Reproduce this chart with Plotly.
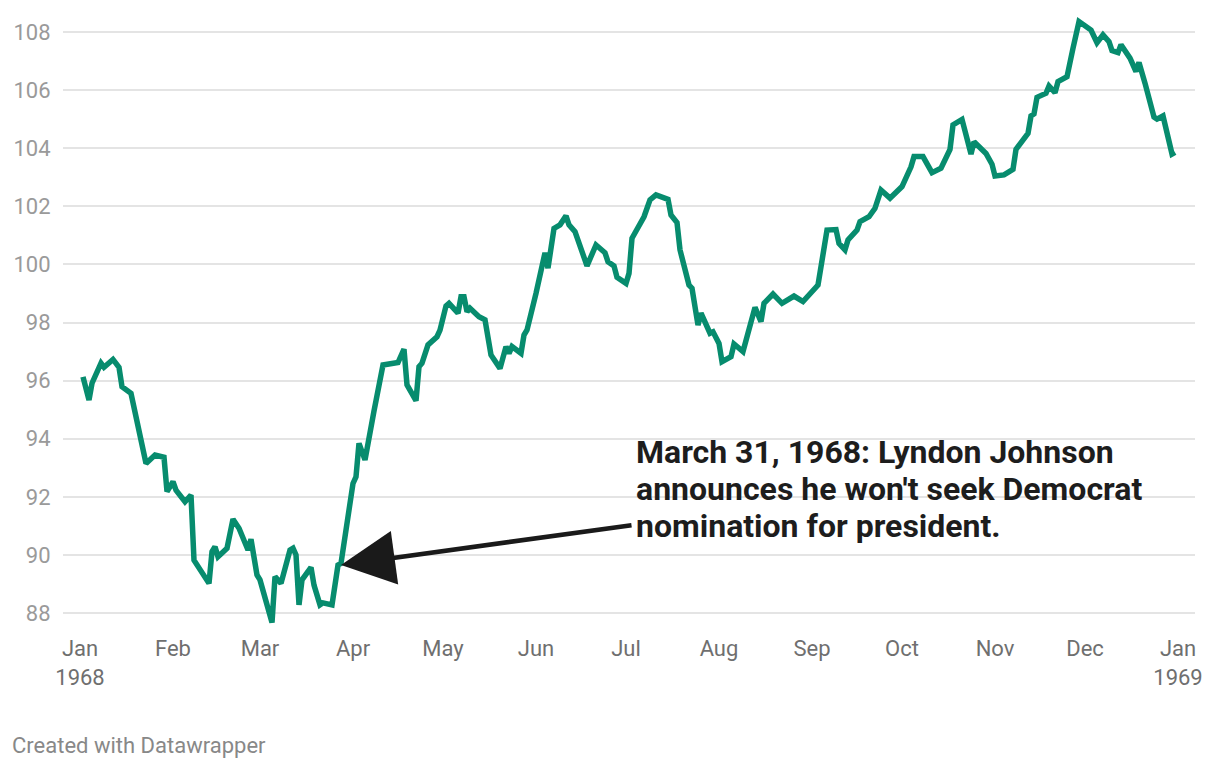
import plotly.graph_objects as go

dates = [
    "1968-01-02", "1968-01-04", "1968-01-05", "1968-01-08", "1968-01-09", "1968-01-12",
    "1968-01-14", "1968-01-15", "1968-01-18", "1968-01-23", "1968-01-26", "1968-01-29",
    "1968-01-30", "1968-02-01", "1968-02-02", "1968-02-05", "1968-02-07", "1968-02-08",
    "1968-02-13", "1968-02-14", "1968-02-15", "1968-02-16", "1968-02-19", "1968-02-21",
    "1968-02-23", "1968-02-26", "1968-02-27", "1968-02-29", "1968-03-01", "1968-03-05",
    "1968-03-06", "1968-03-08", "1968-03-11", "1968-03-12", "1968-03-13", "1968-03-14",
    "1968-03-15", "1968-03-18", "1968-03-19", "1968-03-21", "1968-03-22", "1968-03-25",
    "1968-03-27", "1968-03-28", "1968-04-01", "1968-04-02", "1968-04-03", "1968-04-05",
    "1968-04-08", "1968-04-11", "1968-04-16", "1968-04-18", "1968-04-19", "1968-04-22",
    "1968-04-23", "1968-04-24", "1968-04-26", "1968-04-29", "1968-04-30", "1968-05-02",
    "1968-05-03", "1968-05-06", "1968-05-07", "1968-05-08", "1968-05-09", "1968-05-10",
    "1968-05-13", "1968-05-15", "1968-05-17", "1968-05-20", "1968-05-22", "1968-05-23",
    "1968-05-24", "1968-05-27", "1968-05-28", "1968-05-29", "1968-06-01", "1968-06-04",
    "1968-06-05", "1968-06-07", "1968-06-09", "1968-06-11", "1968-06-12", "1968-06-14",
    "1968-06-18", "1968-06-21", "1968-06-24", "1968-06-25", "1968-06-27", "1968-06-28",
    "1968-07-01", "1968-07-02", "1968-07-03", "1968-07-07", "1968-07-09", "1968-07-11",
    "1968-07-15", "1968-07-16", "1968-07-18", "1968-07-19", "1968-07-22", "1968-07-23",
    "1968-07-25", "1968-07-26", "1968-07-29", "1968-07-30", "1968-08-01", "1968-08-02",
    "1968-08-05", "1968-08-06", "1968-08-09", "1968-08-13", "1968-08-15", "1968-08-16",
    "1968-08-19", "1968-08-22", "1968-08-26", "1968-08-29", "1968-09-03", "1968-09-06",
    "1968-09-09", "1968-09-10", "1968-09-12", "1968-09-13", "1968-09-16", "1968-09-17",
    "1968-09-20", "1968-09-22", "1968-09-24", "1968-09-27", "1968-10-01", "1968-10-04",
    "1968-10-05", "1968-10-08", "1968-10-11", "1968-10-14", "1968-10-17", "1968-10-18",
    "1968-10-21", "1968-10-24", "1968-10-25", "1968-10-29", "1968-10-31", "1968-11-01",
    "1968-11-04", "1968-11-07", "1968-11-08", "1968-11-12", "1968-11-13", "1968-11-14",
    "1968-11-15", "1968-11-18", "1968-11-19", "1968-11-21", "1968-11-22", "1968-11-25",
    "1968-11-27", "1968-11-28", "1968-11-29", "1968-12-03", "1968-12-05", "1968-12-07",
    "1968-12-09", "1968-12-10", "1968-12-12", "1968-12-13", "1968-12-16", "1968-12-18",
    "1968-12-19", "1968-12-21", "1968-12-24", "1968-12-25", "1968-12-27", "1968-12-30",
    "1968-12-31",
]

values = [
    96.13, 95.33, 95.91, 96.60, 96.46, 96.73,
    96.46, 95.79, 95.56, 93.15, 93.44, 93.36,
    92.18, 92.52, 92.23, 91.83, 92.06, 89.82,
    89.02, 90.11, 90.28, 89.94, 90.23, 91.23,
    90.92, 90.17, 90.54, 89.31, 89.14, 87.67,
    89.25, 89.02, 90.17, 90.23, 90.00, 88.28,
    89.14, 89.57, 88.96, 88.28, 88.35, 88.28,
    89.65, 89.71, 92.46, 92.69, 93.84, 93.27,
    94.95, 96.54, 96.62, 97.08, 95.85, 95.31,
    96.48, 96.60, 97.23, 97.51, 97.74, 98.57,
    98.66, 98.32, 98.89, 98.89, 98.37, 98.49,
    98.20, 98.09, 96.88, 96.42, 97.17, 96.94,
    97.17, 96.94, 97.57, 97.74, 99.00, 100.40,
    99.87, 101.24, 101.36, 101.67, 101.36, 101.13,
    99.95, 100.67, 100.40, 100.09, 99.95, 99.56,
    99.35, 99.69, 100.90, 101.64, 102.22, 102.39,
    102.24, 101.70, 101.44, 100.50, 99.29, 99.18,
    97.91, 98.32, 97.63, 97.68, 97.28, 96.65,
    96.82, 97.26, 97.00, 98.52, 98.03, 98.66,
    98.98, 98.66, 98.91, 98.72, 99.29, 101.18,
    101.20, 100.72, 100.50, 100.84, 101.18, 101.47,
    101.64, 101.93, 102.56, 102.28, 102.68, 103.36,
    103.71, 103.71, 103.16, 103.31, 103.96, 104.80,
    104.99, 103.80, 104.22, 103.82, 103.45, 103.04,
    103.08, 103.27, 103.96, 104.51, 105.11, 105.18,
    105.75, 105.89, 106.14, 105.91, 106.29, 106.46,
    107.44, 107.84, 108.36, 108.07, 107.63, 107.90,
    107.67, 107.36, 107.29, 107.56, 107.10, 106.64,
    106.95, 106.24, 105.07, 105.00, 105.11, 103.80,
    103.86,
]

tick_dates = ["1968-01-01", "1968-02-01", "1968-03-01", "1968-04-01", "1968-05-01",
              "1968-06-01", "1968-07-01", "1968-08-01", "1968-09-01", "1968-10-01",
              "1968-11-01", "1968-12-01", "1969-01-01"]
tick_labels = ["Jan<br>1968", "Feb", "Mar", "Apr", "May", "Jun", "Jul", "Aug",
               "Sep", "Oct", "Nov", "Dec", "Jan<br>1969"]
y_ticks = [88, 90, 92, 94, 96, 98, 100, 102, 104, 106, 108]

annotation_lines = ["March 31, 1968: Lyndon Johnson",
                    "announces he won't seek Democrat",
                    "nomination for president."]
annotation_line_y = [93.54, 92.27, 91.0]

fig = go.Figure()
fig.add_trace(go.Scatter(
    x=dates, y=values, mode="lines",
    line=dict(color="#078c6e", width=5.5),
    hoverinfo="skip", showlegend=False,
))

annotations = [
    dict(
        x="1968-03-28", y=89.65, xref="x", yref="y",
        ax="1968-07-03 08:00", ay=91.03, axref="x", ayref="y",
        text="", showarrow=True, arrowhead=2, arrowsize=2.4,
        arrowwidth=4.5, arrowcolor="#1a1a1a", standoff=0,
    ),
]
for line_text, ly in zip(annotation_lines, annotation_line_y):
    annotations.append(dict(
        x="1968-07-03 16:00", y=ly, xref="x", yref="y",
        xanchor="left", yanchor="middle", align="left",
        text=line_text, showarrow=False,
        font=dict(family="Roboto", size=32, color="#1d1d1d", weight="bold"),
    ))
annotations.append(dict(
    x=(10 - 63) / (1220 - 63 - 25), y=(768 - 138 - 745) / (768 - 138 - 10),
    xref="paper", yref="paper", xanchor="left", yanchor="middle",
    text="Created with Datawrapper", showarrow=False,
    font=dict(family="Roboto", size=22, color="#888888"),
))

fig.update_layout(
    width=1220, height=768,
    margin=dict(l=63, r=25, t=10, b=138),
    paper_bgcolor="white", plot_bgcolor="white",
    font=dict(family="Roboto", color="#777777"),
    xaxis=dict(
        range=["1967-12-26 08:00", "1969-01-06 16:00"],
        tickvals=tick_dates, ticktext=tick_labels,
        showgrid=False, zeroline=False, showline=False,
        ticks="", ticklabelstandoff=3,
        tickfont=dict(size=22, color="#6f6f6f", family="Roboto"),
    ),
    yaxis=dict(
        range=[87.415, 108.757],
        tickvals=y_ticks,
        showgrid=True, gridcolor="#e4e4e4", gridwidth=2,
        zeroline=False, showline=False,
        ticks="outside", ticklen=7, tickcolor="rgba(0,0,0,0)",
        tickfont=dict(size=22, color="#9a9a9a", family="Roboto"),
    ),
    annotations=annotations,
)

fig.write_html("out.html")
